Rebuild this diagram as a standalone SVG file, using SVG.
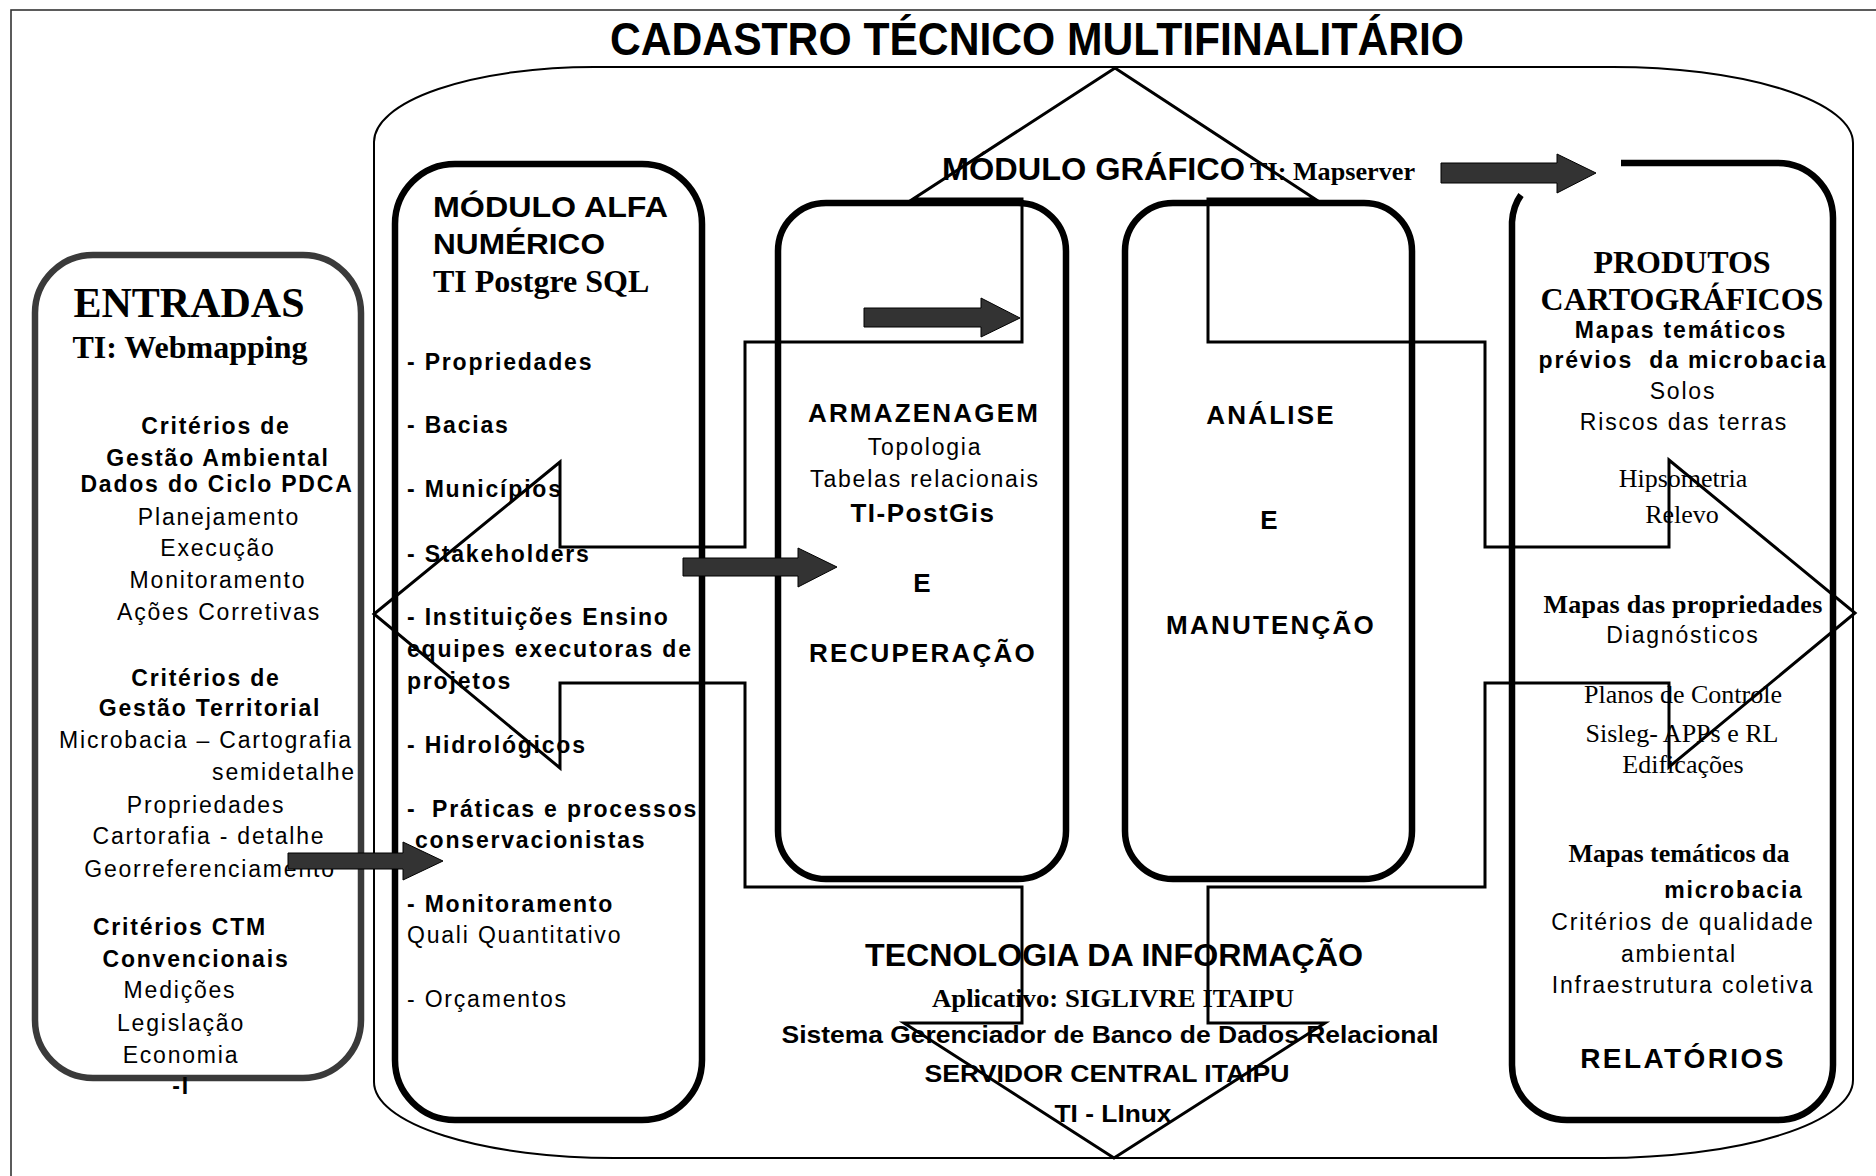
<svg xmlns="http://www.w3.org/2000/svg" width="1876" height="1176" viewBox="0 0 1876 1176">
<style>
.a{font-family:"Liberation Sans",Arial,sans-serif}
.t{font-family:"Liberation Serif","Times New Roman",serif}
.b{font-weight:bold}
.s{font-size:23px;letter-spacing:1.8px}
.m{text-anchor:middle}
.h{font-size:26px;font-weight:bold;letter-spacing:2.2px}
.tr{font-size:26px}
.box{fill:none;stroke:#000;stroke-width:6.5}
.cross{fill:none;stroke:#000;stroke-width:3;stroke-linejoin:miter}
.dark{fill:#333;stroke:#000;stroke-width:1}
text{fill:#000}
</style>
<rect width="1876" height="1176" fill="#fff"/>
<rect id="frame" x="11" y="10" width="1900" height="1200" fill="none" stroke="#333" stroke-width="1.6"/>
<g id="title">
<text class="a b m" x="1037" y="55" font-size="46" textLength="854" lengthAdjust="spacingAndGlyphs">CADASTRO TÉCNICO MULTIFINALITÁRIO</text>
</g>
<g id="container">
<path d="M374,142 A220,75 0 0 1 594,67 H1613 A240,76 0 0 1 1853,143 V1080 A250,78 0 0 1 1603,1158 H614 A240,76 0 0 1 374,1082 Z" fill="none" stroke="#000" stroke-width="2"/>
</g>
<g id="entradas">
<rect x="35" y="255" width="326" height="823" rx="58" fill="none" stroke="#3a3a3a" stroke-width="6.5"/>
<text class="t b m" x="189" y="317" font-size="42">ENTRADAS</text>
<text class="t b m" x="190" y="358" font-size="32">TI: Webmapping</text>
<g class="a s m">
<text class="b" x="216" y="434">Critérios de</text>
<text class="b" x="218" y="466">Gestão Ambiental</text>
<text class="b" x="217" y="492">Dados do Ciclo PDCA</text>
<text x="219" y="525">Planejamento</text>
<text x="218" y="556">Execução</text>
<text x="218" y="588">Monitoramento</text>
<text x="219" y="620">Ações Corretivas</text>
<text class="b" x="206" y="686">Critérios de</text>
<text class="b" x="210" y="716">Gestão Territorial</text>
<text x="206" y="748">Microbacia – Cartografia</text>
<text x="284" y="780">semidetalhe</text>
<text x="206" y="813">Propriedades</text>
<text x="209" y="844">Cartorafia - detalhe</text>
<text x="210" y="877">Georreferenciamento</text>
<text class="b" x="180" y="935">Critérios CTM</text>
<text class="b" x="196" y="967">Convencionais</text>
<text x="180" y="998">Medições</text>
<text x="181" y="1031">Legislação</text>
<text x="181" y="1063">Economia</text>
<text class="b" x="181" y="1094">-I</text>
</g>
</g>
<g id="modulo-alfa">
<rect class="box" x="395" y="164" width="307" height="956" rx="60"/>
<text class="a b" x="433" y="217" font-size="30" textLength="235" lengthAdjust="spacingAndGlyphs">MÓDULO ALFA</text>
<text class="a b" x="433" y="254" font-size="30" textLength="172" lengthAdjust="spacingAndGlyphs">NUMÉRICO</text>
<text class="t b" x="433" y="292" font-size="32">TI Postgre SQL</text>
<g class="a s b">
<text x="407" y="370">- Propriedades</text>
<text x="407" y="433">- Bacias</text>
<text x="407" y="497">- Municípios</text>
<text x="407" y="562">- Stakeholders</text>
<text x="407" y="625">- Instituições Ensino</text>
<text x="407" y="657">equipes executoras de</text>
<text x="407" y="689">projetos</text>
<text x="407" y="753">- Hidrológicos</text>
<text x="407" y="817">-<tspan x="432">Práticas e processos</tspan></text>
<text x="415" y="848">conservacionistas</text>
<text x="407" y="912">- Monitoramento</text>
</g>
<g class="a s">
<text x="407" y="943">Quali Quantitativo</text>
<text x="407" y="1007">- Orçamentos</text>
</g>
</g>
<g id="armazenagem">
<rect class="box" x="778" y="203" width="288" height="676" rx="48"/>
<text class="a h m" x="924" y="422">ARMAZENAGEM</text>
<text class="a s m" x="925" y="455">Topologia</text>
<text class="a s m" x="925" y="487">Tabelas relacionais</text>
<text class="a m b" x="923" y="522" font-size="26" letter-spacing="1.5">TI-PostGis</text>
<text class="a h m" x="923" y="592">E</text>
<text class="a h m" x="923" y="662">RECUPERAÇÃO</text>
</g>
<g id="analise">
<rect class="box" x="1125" y="203" width="287" height="676" rx="48"/>
<text class="a h m" x="1271" y="424">ANÁLISE</text>
<text class="a h m" x="1270" y="529">E</text>
<text class="a h m" x="1271" y="634">MANUTENÇÃO</text>
</g>
<g id="modulo-grafico">
<text class="a b" x="942" y="180" font-size="32" textLength="303" lengthAdjust="spacingAndGlyphs">MÓDULO GRÁFICO</text>
<text class="t b" x="1250" y="180" font-size="25" textLength="165" lengthAdjust="spacingAndGlyphs">TI: Mapserver</text>
</g>
<g id="produtos">
<path class="box" d="M1621,163 H1778 A55,55 0 0 1 1833,218 V1065 A55,55 0 0 1 1778,1120 H1567 A55,55 0 0 1 1512,1065 V222 Q1513,206 1521,195"/>
<text class="t b m" x="1682" y="273" font-size="32">PRODUTOS</text>
<text class="t b m" x="1682" y="310" font-size="32">CARTOGRÁFICOS</text>
<text class="a s b m" x="1681" y="338">Mapas temáticos</text>
<text class="a s b m" x="1683" y="368" xml:space="preserve">prévios  da microbacia</text>
<text class="a s m" x="1683" y="399">Solos</text>
<text class="a s m" x="1684" y="430">Riscos das terras</text>
<text class="t tr m" x="1683" y="487">Hipsometria</text>
<text class="t tr m" x="1682" y="523">Relevo</text>
<text class="t tr b m" x="1683" y="613" letter-spacing="0.3">Mapas das propriedades</text>
<text class="a s m" x="1683" y="643">Diagnósticos</text>
<text class="t tr m" x="1683" y="703">Planos de Controle</text>
<text class="t tr m" x="1682" y="742">Sisleg- APPs e RL</text>
<text class="t tr m" x="1683" y="773">Edificações</text>
<text class="t tr b m" x="1679" y="862">Mapas temáticos da</text>
<text class="a s b m" x="1734" y="898">microbacia</text>
<text class="a s m" x="1683" y="930">Critérios de qualidade</text>
<text class="a s m" x="1679" y="962">ambiental</text>
<text class="a s m" x="1683" y="993">Infraestrutura coletiva</text>
<text class="a b m" x="1683" y="1068" font-size="28" letter-spacing="2.4">RELATÓRIOS</text>
</g>
<g id="tecnologia">
<text class="a b m" x="1114" y="966" font-size="32" textLength="498" lengthAdjust="spacingAndGlyphs">TECNOLOGIA DA INFORMAÇÃO</text>
<text class="t b m" x="1113" y="1007" font-size="26" textLength="362" lengthAdjust="spacingAndGlyphs">Aplicativo: SIGLIVRE ITAIPU</text>
<text class="a b m" x="1110" y="1043" font-size="24" textLength="657" lengthAdjust="spacingAndGlyphs">Sistema Gerenciador de Banco de Dados Relacional</text>
<text class="a b m" x="1107" y="1082" font-size="24" textLength="365" lengthAdjust="spacingAndGlyphs">SERVIDOR CENTRAL ITAIPU</text>
<text class="a b m" x="1113" y="1122" font-size="24" textLength="117" lengthAdjust="spacingAndGlyphs">TI - LInux</text>
</g>
<g id="connectors">
<path class="cross" d="M1022,199 L913,199 L1115,68 L1315,199 L1208,199 L1208,342 L1485,342 L1485,547 L1669,547 L1669,460 L1855,613 L1669,767 L1669,683 L1485,683 L1485,887 L1208,887 L1208,1023 L1325,1023 L1114,1158 L904,1023 L1022,1023 L1022,887 L745,887 L745,683 L560,683 L560,768 L374,614 L560,462 L560,547 L745,547 L745,342 L1022,342 Z"/>
<path class="dark" d="M1441,163 H1557 V154 L1596,173 L1557,193 V183 H1441 Z"/>
<path class="dark" d="M864,308 H981 V298 L1020,318 L981,337 V327 H864 Z"/>
<path class="dark" d="M683,558 H798 V548 L837,567 L798,587 V576 H683 Z"/>
<path class="dark" d="M288,853 H403 V842 L443,861 L403,880 V869 H288 Z"/>
</g>
</svg>
